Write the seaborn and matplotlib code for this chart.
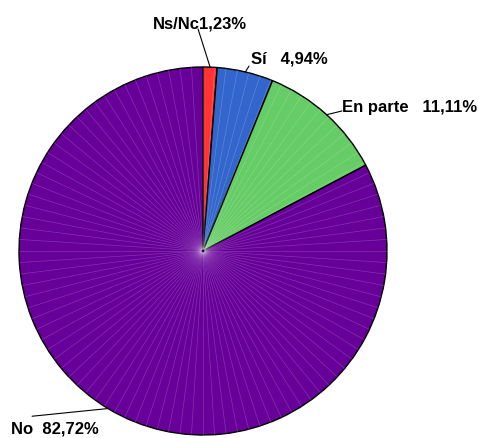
import numpy as np
import seaborn as sns
import matplotlib.pyplot as plt

# datos de la encuesta
categorias = ['Ns/Nc', 'Sí', 'En parte', 'No']
porcentajes = [1.23, 4.94, 11.11, 82.72]
separadores = ['', '   ', '   ', '  ']
colores = ['#FF3333', '#3366CC', '#66CC66', '#660099']

sns.set_theme(style='white')
plt.rcParams['font.family'] = ['Liberation Sans', 'DejaVu Sans']

fig = plt.figure(figsize=(4.79, 4.39), dpi=100)
ax = fig.add_axes([0, 0, 1, 1])

wedges, _ = ax.pie(porcentajes, colors=colores, startangle=90, counterclock=False,
                   wedgeprops={'edgecolor': 'black', 'linewidth': 1})

# lineas radiales claras (efecto del relleno original)
for ang in np.arange(0, 360, 3.6):
    r = np.radians(ang)
    ax.plot([0.01 * np.cos(r), np.cos(r)], [0.01 * np.sin(r), np.sin(r)],
            color='white', lw=0.5, alpha=0.2, zorder=2)

# posiciones de las etiquetas (coordenadas de datos, linea base del texto)
pos_texto = [(-0.016, 1.217), (0.261, 1.022), (0.755, 0.761), (-1.043, -0.984)]
alineacion = ['center', 'left', 'left', 'left']
fin_linea = [(-0.027, 1.207), (0.25, 1.005), (0.755, 0.761), (-0.929, -0.898)]

acum = 0
for i, w in enumerate(wedges):
    medio = 90 - (acum + porcentajes[i] / 2) * 3.6
    acum += porcentajes[i]
    r = np.radians(medio)
    borde = (np.cos(r), np.sin(r))
    txt = f"{categorias[i]}{separadores[i]}{porcentajes[i]:.2f}%".replace('.', ',')
    ax.plot([borde[0], fin_linea[i][0]], [borde[1], fin_linea[i][1]], color='black', lw=0.8, zorder=3)
    ax.text(pos_texto[i][0], pos_texto[i][1], txt, ha=alineacion[i], va='baseline',
            fontsize=12, fontweight='bold', color='black')

ax.set_xlim(-203 / 184, 276 / 184)
ax.set_ylim(-187 / 184, 252 / 184)
ax.set_aspect('equal')
ax.axis('off')

fig.savefig('out.png', dpi=100)
